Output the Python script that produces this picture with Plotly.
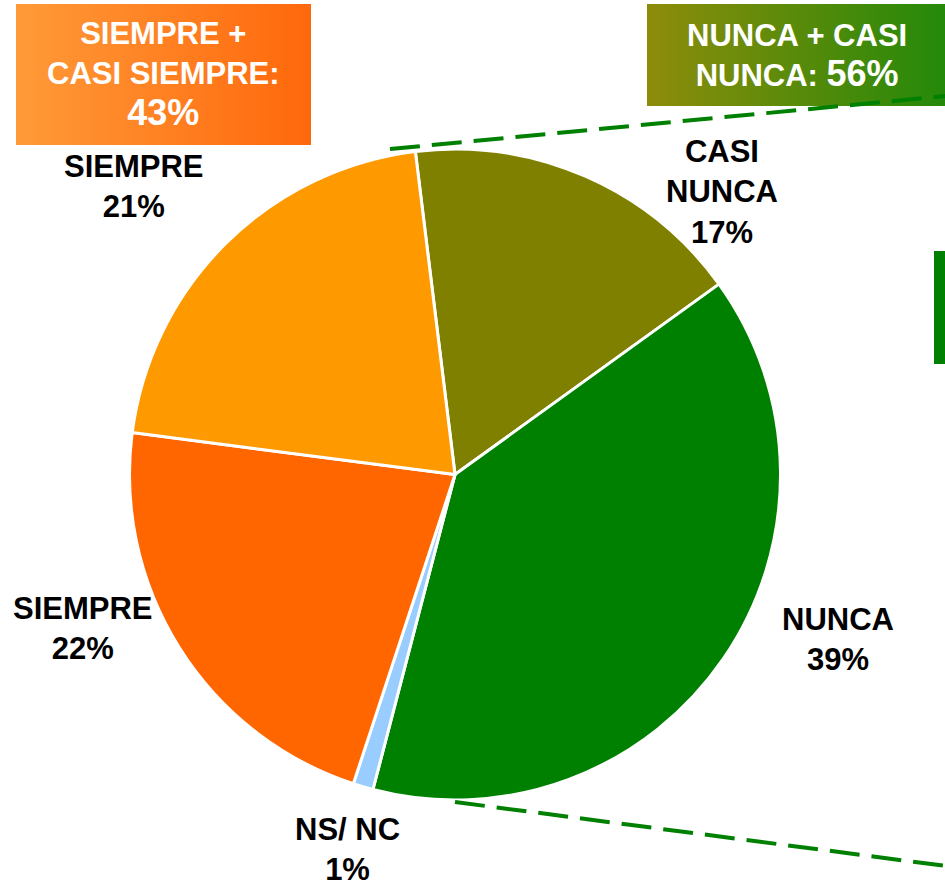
import plotly.graph_objects as go

# ---- data ----
categories = ["CASI<br>NUNCA", "NUNCA", "NS/ NC", "SIEMPRE", "SIEMPRE"]
values = [17, 39, 1, 22, 21]
colors = ["#808000", "#008000", "#99CCFF", "#FF6600", "#FF9900"]
group_siempre_label = "SIEMPRE +<br>CASI SIEMPRE:"
group_siempre_value = 43
group_nunca_label = "NUNCA + CASI<br>NUNCA:"
group_nunca_value = 56

W, H = 945, 886
def px(x):
    return x / W
def py(y):
    return 1 - y / H

FONT = "Liberation Sans, Arial, sans-serif"

fig = go.Figure()

# gradient boxes on an invisible overlay axis in screen-pixel units
fig.add_trace(go.Scatter(
    x=[16, 311, 311, 16, 16], y=[4, 4, 145, 145, 4], mode="lines",
    line=dict(width=0), fill="toself",
    fillgradient=dict(type="horizontal", colorscale=[[0, "#FF9A38"], [1, "#FF680C"]]),
    hoverinfo="skip", showlegend=False))
fig.add_trace(go.Scatter(
    x=[647, 946, 946, 647, 647], y=[4, 4, 106, 106, 4], mode="lines",
    line=dict(width=0), fill="toself",
    fillgradient=dict(type="horizontal", colorscale=[[0, "#8E8C0A"], [1, "#24890A"]]),
    hoverinfo="skip", showlegend=False))

# pie
cx, cy, r = 455, 474.5, 325.5
fig.add_trace(go.Pie(
    labels=[f"{c} {i}" for i, c in enumerate(categories)],
    values=values,
    marker=dict(colors=colors, line=dict(color="white", width=3)),
    sort=False, direction="clockwise", rotation=-7,
    textinfo="none", hoverinfo="skip", showlegend=False,
    domain=dict(x=[px(cx - r), px(cx + r)], y=[py(cy + r), py(cy - r)]),
))

fig.update_layout(
    width=W, height=H, margin=dict(l=0, r=0, t=0, b=0),
    paper_bgcolor="white", plot_bgcolor="rgba(0,0,0,0)",
    xaxis=dict(range=[0, W], visible=False, domain=[0, 1], fixedrange=True),
    yaxis=dict(range=[H, 0], visible=False, domain=[0, 1], fixedrange=True),
)

# decorative shapes: dashed connector lines and right bar
dash = "30px,12px"
fig.add_shape(type="line", xref="paper", yref="paper",
              x0=px(390), y0=py(149), x1=px(946), y1=py(96),
              line=dict(color="#008000", width=4, dash=dash))
fig.add_shape(type="line", xref="paper", yref="paper",
              x0=px(455), y0=py(802), x1=px(946), y1=py(866),
              line=dict(color="#008000", width=4, dash=dash))
fig.add_shape(type="rect", xref="paper", yref="paper",
              x0=px(934), y0=py(364), x1=px(947), y1=py(251),
              line=dict(width=0), fillcolor="#008000")

# slice labels
label_pos = [(722, 192), (838, 639), (347, 849), (83, 628), (134, 187)]
for (x, y), c, v in zip(label_pos, categories, values):
    fig.add_annotation(x=px(x), y=py(y), xref="paper", yref="paper",
                       text=f"<b>{c}<br>{v}%</b>", showarrow=False,
                       xanchor="center", yanchor="middle", align="center",
                       font=dict(family=FONT, size=31, color="black"))

# group boxes text
fig.add_annotation(x=px(163.5), y=py(75), xref="paper", yref="paper",
                   text=f"<b>{group_siempre_label}<br><span style='font-size:36px'>{group_siempre_value}%</span></b>",
                   showarrow=False, xanchor="center", yanchor="middle", align="center",
                   font=dict(family=FONT, size=31, color="white"))
fig.add_annotation(x=px(797), y=py(56), xref="paper", yref="paper",
                   text=f"<b>{group_nunca_label} <span style='font-size:36px'>{group_nunca_value}%</span></b>",
                   showarrow=False, xanchor="center", yanchor="middle", align="center",
                   font=dict(family=FONT, size=31, color="white"))

fig.write_html("out.html", default_width="945px", default_height="886px",
               config={"displayModeBar": False, "staticPlot": True},
               post_script="document.body.style.margin='0';document.body.style.overflow='hidden';")
